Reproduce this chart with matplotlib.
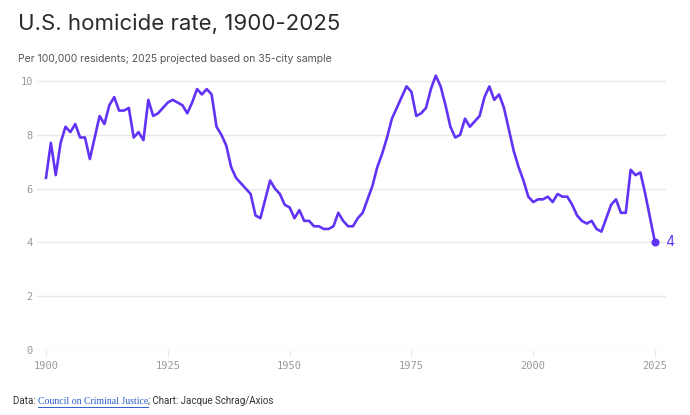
import matplotlib

matplotlib.use("Agg")
import matplotlib.pyplot as plt


# homicide rate per 100,000
years = list(range(1900, 2026))
rates = [
    6.4, 7.7, 6.5, 7.7, 8.3, 8.1, 8.4, 7.9, 7.9, 7.1,  # 1900s
    7.9, 8.7, 8.4, 9.1, 9.4, 8.9, 8.9, 9.0, 7.9, 8.1,  # 1910s
    7.8, 9.3, 8.7, 8.8, 9.0, 9.2, 9.3, 9.2, 9.1, 8.8,  # 1920s
    9.2, 9.7, 9.5, 9.7, 9.5, 8.3, 8.0, 7.6, 6.8, 6.4,  # 1930s
    6.2, 6.0, 5.8, 5.0, 4.9, 5.6, 6.3, 6.0, 5.8, 5.4,  # 1940s
    5.3, 4.9, 5.2, 4.8, 4.8, 4.6, 4.6, 4.5, 4.5, 4.6,  # 1950s
    5.1, 4.8, 4.6, 4.6, 4.9, 5.1, 5.6, 6.1, 6.8, 7.3,  # 1960s
    7.9, 8.6, 9.0, 9.4, 9.8, 9.6, 8.7, 8.8, 9.0, 9.7,  # 1970s
    10.2, 9.8, 9.1, 8.3, 7.9, 8.0, 8.6, 8.3, 8.5, 8.7,  # 1980s
    9.4, 9.8, 9.3, 9.5, 9.0, 8.2, 7.4, 6.8, 6.3, 5.7,  # 1990s
    5.5, 5.6, 5.6, 5.7, 5.5, 5.8, 5.7, 5.7, 5.4, 5.0,  # 2000s
    4.8, 4.7, 4.8, 4.5, 4.4, 4.9, 5.4, 5.6, 5.1, 5.1,  # 2010s
    6.7, 6.5, 6.6, 5.8, 4.9, 4.0,  # 2020s
]
x_ticks = [1900, 1925, 1950, 1975, 2000, 2025]
y_ticks = [0, 2, 4, 6, 8, 10]

LINE_COLOR = "#6233f5"
GRID_COLOR = "#e8e8e8"
TICK_TEXT = "#9a9a9a"
FOOT_FONT = "Roboto"

W, H = 690, 415
fig = plt.figure(figsize=(W / 100, H / 100), dpi=100)

# axes placed in pixel terms: gridlines span x 37..666, y=0 at 350 px, y=10 at 81 px
px_per_unit = (350 - 81) / 10
y_top = 10.5
top_px = 350 - y_top * px_per_unit
ax = fig.add_axes([37 / W, (H - 350) / H, (666 - 37) / W, (350 - top_px) / H])

px_per_year = (655 - 46) / 125
ax.set_xlim(1900 - 9 / px_per_year, 2025 + 11 / px_per_year)
ax.set_ylim(0, y_top)

ax.plot(years, rates, color=LINE_COLOR, lw=1.9, solid_joinstyle="round", zorder=3)
ax.scatter([years[-1]], [rates[-1]], s=34, color=LINE_COLOR, zorder=4, linewidths=0)
ax.annotate(
    f"{rates[-1]:g}", (years[-1], rates[-1]), xytext=(7, 0), textcoords="offset points",
    ha="left", va="center", color=LINE_COLOR, fontsize=10, family="Inter",
)

for side in ("top", "right", "left", "bottom"):
    ax.spines[side].set_visible(False)

ax.set_yticks(y_ticks)
ax.set_xticks(x_ticks)
ax.yaxis.grid(True, color=GRID_COLOR, lw=1)
ax.set_axisbelow(True)
ax.tick_params(axis="y", length=0, pad=3, labelsize=7.5, labelcolor=TICK_TEXT)
ax.tick_params(axis="x", length=5, width=0.8, color=GRID_COLOR, pad=3,
               labelsize=7.5, labelcolor=TICK_TEXT)
for label in ax.get_xticklabels() + ax.get_yticklabels():
    label.set_family("DejaVu Sans Mono")

fig.text(18 / W, 1 - 24 / H, "U.S. homicide rate, 1900-2025", fontsize=16,
         family="Inter", color="#2a2a2a", va="center", ha="left")
fig.text(18 / W, 1 - 59 / H, "Per 100,000 residents; 2025 projected based on 35-city sample",
         fontsize=7.5, family="Inter", color="#555555", va="center", ha="left")

# footer: plain text, linked source, plain text
footer_y = 1 - 401 / H
t1 = fig.text(13 / W, footer_y, "Data: ", fontsize=7.0, family=FOOT_FONT,
              color="#333333", va="center", ha="left")
fig.canvas.draw()
renderer = fig.canvas.get_renderer()
bb = t1.get_window_extent(renderer)
t2 = fig.text(bb.x1 / W, footer_y, "Council on Criminal Justice", fontsize=7.0,
              family="Liberation Serif", color="#2b5fc9", va="center", ha="left")
bb2 = t2.get_window_extent(renderer)
fig.add_artist(plt.Line2D([bb2.x0 / W, bb2.x1 / W], [(bb2.y0 - 1) / H] * 2,
                          color="#2b5fc9", lw=0.7))
fig.text(bb2.x1 / W, footer_y, "; Chart: Jacque Schrag/Axios", fontsize=7.0,
         family=FOOT_FONT, color="#333333", va="center", ha="left")

fig.savefig("out.png", dpi=100)
